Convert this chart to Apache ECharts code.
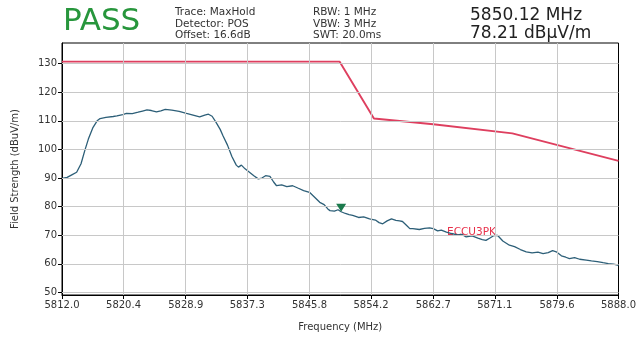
<!DOCTYPE html>
<html><head><meta charset="utf-8">
<script src="https://cdn.jsdelivr.net/npm/echarts@6/dist/echarts.min.js"></script>
<style>html,body{margin:0;padding:0;background:#fff}#c{width:639px;height:337px}</style>
</head><body><div id="c"></div>
<script>
const xTicks = [5812.0, 5820.4, 5828.9, 5837.3, 5845.8, 5854.2, 5862.7, 5871.1, 5879.6, 5888.0];
const yTicks = [50, 60, 70, 80, 90, 100, 110, 120, 130];
const traceFreq = [5812.0,5812.7,5813.4,5814.0,5814.6,5815.1,5815.6,5816.2,5816.8,5817.2,5818.0,5819.0,5819.5,5820.3,5820.8,5821.6,5822.4,5823.0,5823.6,5824.2,5824.9,5825.5,5826.1,5827.0,5828.0,5829.0,5829.9,5830.8,5831.5,5832.0,5832.5,5833.0,5833.6,5834.0,5834.6,5835.2,5835.8,5836.1,5836.5,5837.0,5837.6,5838.2,5838.8,5839.3,5839.8,5840.4,5840.9,5841.3,5842.0,5842.7,5843.5,5844.2,5845.0,5845.8,5846.5,5847.2,5847.8,5848.3,5848.6,5849.2,5849.7,5850.12,5850.7,5851.2,5851.7,5852.5,5853.2,5854.0,5854.8,5855.3,5855.8,5856.4,5857.0,5857.6,5858.1,5858.5,5859.0,5859.5,5859.9,5860.8,5861.5,5862.2,5862.7,5863.3,5863.8,5864.5,5865.2,5866.0,5866.6,5867.2,5868.0,5868.8,5869.4,5869.9,5870.5,5871.0,5871.5,5872.2,5873.1,5873.8,5874.6,5875.4,5876.2,5877.0,5877.7,5878.4,5879.0,5879.5,5880.2,5880.8,5881.3,5882.0,5882.7,5883.6,5884.3,5885.1,5885.9,5886.6,5887.3,5888.0];
const traceVal = [89.9,90.2,91.2,92.0,95.0,99.5,103.6,107.5,110.0,110.8,111.2,111.5,111.7,112.2,112.6,112.5,113.0,113.4,113.8,113.6,113.1,113.5,114.0,113.7,113.3,112.6,112.0,111.4,112.0,112.3,111.6,109.6,107.0,104.7,101.5,97.5,94.5,93.8,94.5,93.2,92.0,90.8,89.7,90.0,90.8,90.6,88.6,87.3,87.6,87.0,87.3,86.5,85.6,85.0,83.3,81.5,80.7,79.2,78.6,78.4,78.9,78.21,77.6,77.2,76.9,76.2,76.4,75.7,75.3,74.4,74.0,75.0,75.7,75.2,75.0,74.8,73.6,72.3,72.3,72.0,72.4,72.6,72.3,71.5,71.8,71.1,70.6,70.1,70.3,69.4,69.8,69.0,68.5,68.2,69.1,69.9,69.9,68.0,66.5,66.0,65.0,64.2,63.8,64.1,63.6,63.9,64.6,64.2,62.8,62.3,61.8,62.2,61.6,61.3,61.0,60.8,60.4,60.1,59.9,59.5];
const limitFreq = [5812.0, 5849.9, 5854.6, 5862.7, 5873.5, 5888.0];
const limitVal = [130.7, 130.7, 110.8, 108.8, 105.6, 96.0];
const markerFreq = 5850.12;
const markerVal = 78.21;

const chart = echarts.init(document.getElementById('c'), null, {renderer: 'canvas'});
const font = 'DejaVu Sans';
const gridLines = yTicks.map(v => ({yAxis: v})).concat(xTicks.slice(1, -1).map(v => ({xAxis: v})));
chart.setOption({
  animation: false,
  backgroundColor: '#fff',
  grid: {left: 62, right: 20, top: 43, bottom: 41, show: true, borderColor: '#000', borderWidth: 1},
  xAxis: {
    type: 'value', min: 5812, max: 5888,
    name: 'Frequency (MHz)', nameLocation: 'middle', nameGap: 27,
    nameTextStyle: {fontFamily: font, fontSize: 10, color: '#333'},
    axisLine: {show: true, onZero: false, lineStyle: {color: '#000', width: 1}},
    axisTick: {show: true, length: 4, customValues: xTicks, lineStyle: {color: '#000'}},
    axisLabel: {customValues: xTicks, fontFamily: font, fontSize: 10, color: '#333', margin: 5,
      formatter: v => v.toFixed(1)},
    splitLine: {show: false}
  },
  yAxis: {
    type: 'value', min: 49.1, max: 137.2,
    name: 'Field Strength (dBuV/m)', nameLocation: 'middle', nameGap: 42,
    nameTextStyle: {fontFamily: font, fontSize: 10, color: '#333'},
    axisLine: {show: true, onZero: false, lineStyle: {color: '#000', width: 1}},
    axisTick: {show: true, length: 4, customValues: yTicks, lineStyle: {color: '#000'}},
    axisLabel: {customValues: yTicks, fontFamily: font, fontSize: 10, color: '#333', margin: 5},
    splitLine: {show: false}
  },
  series: [
    {
      type: 'line', data: [], z: 1, silent: true,
      markLine: {silent: true, symbol: 'none', label: {show: false},
        lineStyle: {color: '#c8c8c8', width: 1, type: 'solid'}, data: gridLines}
    },
    {
      type: 'line', z: 3, showSymbol: false, silent: true,
      data: traceFreq.map((f, i) => [f, traceVal[i]]),
      lineStyle: {color: '#2d5f78', width: 1.3}
    },
    {
      type: 'line', z: 4, showSymbol: false, silent: true,
      data: limitFreq.map((f, i) => [f, limitVal[i]]),
      lineStyle: {color: '#de3f5f', width: 1.9},
      markPoint: {
        symbol: 'triangle', symbolRotate: 180, symbolSize: [10, 8], symbolOffset: [0, -4],
        itemStyle: {color: '#1b7a4c'}, label: {show: false},
        data: [{coord: [markerFreq, markerVal]}]
      }
    }
  ],
  graphic: [
    {type: 'text', left: 63, top: 6, style: {text: 'PASS', font: '31px "DejaVu Sans"', fill: '#27963c'}},
    {type: 'text', left: 175, top: 7, style: {text: 'Trace: MaxHold\nDetector: POS\nOffset: 16.6dB', font: '10.5px "DejaVu Sans"', fill: '#333', lineHeight: 11.5}},
    {type: 'text', left: 313, top: 7, style: {text: 'RBW: 1 MHz\nVBW: 3 MHz\nSWT: 20.0ms', font: '10.5px "DejaVu Sans"', fill: '#333', lineHeight: 11.5}},
    {type: 'text', left: 470, top: 7, style: {text: '5850.12 MHz\n78.21 dBµV/m', font: '17px "DejaVu Sans"', fill: '#222', lineHeight: 18}},
    {type: 'text', left: 447, top: 227, style: {text: 'ECCU3PK', font: '10.5px "DejaVu Sans"', fill: '#e8304a'}}
  ]
});
</script>
</body></html>
